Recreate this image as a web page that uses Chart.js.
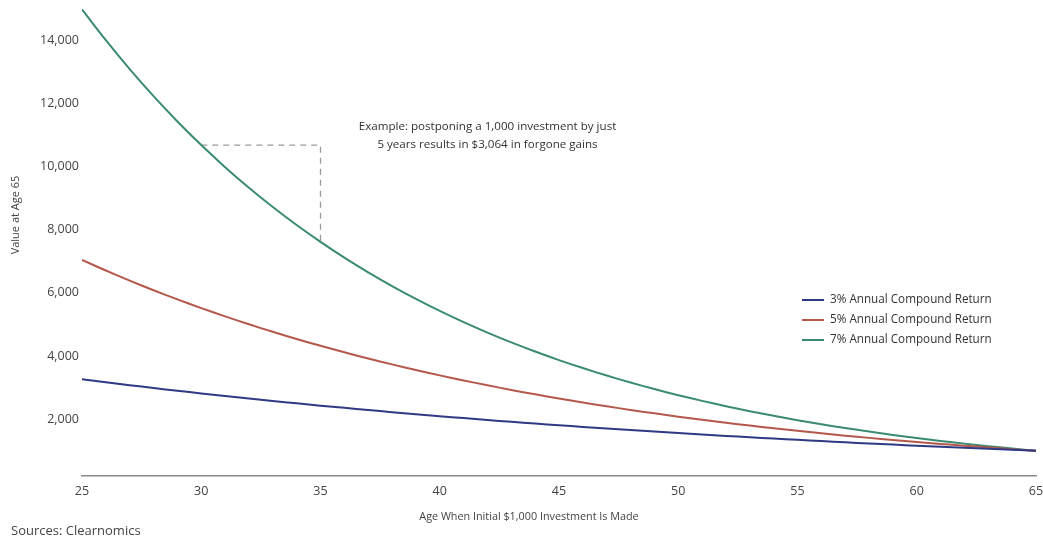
<!DOCTYPE html>
<html>
<head>
<meta charset="utf-8">
<script src="https://cdn.jsdelivr.net/npm/chart.js@4/dist/chart.umd.min.js"></script>
<style>
  html, body { margin: 0; padding: 0; background: #ffffff; }
  #wrap { width: 1043px; height: 539px; position: relative; }
</style>
</head>
<body>
<div id="wrap"><canvas id="c" width="1043" height="539"></canvas></div>
<script>
// Age when the initial $1,000 investment is made
const ages = [25,26,27,28,29,30,31,32,33,34,35,36,37,38,39,40,41,42,43,44,45,
              46,47,48,49,50,51,52,53,54,55,56,57,58,59,60,61,62,63,64,65];

// Value at age 65
const return3 = [3262,3167,3075,2985,2898,2814,2732,2652,2575,2500,2427,2357,2288,2221,2157,2094,
                 2033,1974,1916,1860,1806,1754,1702,1653,1605,1558,1513,1469,1426,1384,1344,1305,
                 1267,1230,1194,1159,1126,1093,1061,1030,1000];
const return5 = [7040,6705,6386,6081,5792,5516,5253,5003,4765,4538,4322,4116,3920,3734,3556,3386,
                 3225,3072,2925,2786,2653,2527,2407,2292,2183,2079,1980,1886,1796,1710,1629,1551,
                 1478,1407,1340,1276,1216,1158,1103,1050,1000];
const return7 = [14974,13995,13079,12224,11424,10677,9978,9325,8715,8145,7612,7114,6649,6214,5807,5427,
                 5072,4741,4430,4141,3870,3617,3380,3159,2952,2759,2579,2410,2252,2105,1967,1838,
                 1718,1606,1501,1403,1311,1225,1145,1070,1000];

const seriesNames = ["3% Annual Compound Return", "5% Annual Compound Return", "7% Annual Compound Return"];
const seriesColors = ["#2e3a86", "#b4584b", "#3a8b72"];

// Example annotation: postponing from age 30 to 35 on the 7% curve
const exampleAges = [30, 35, 35];
const exampleValues = [10677, 10677, 7612];

const yTicks = [2000, 4000, 6000, 8000, 10000, 12000, 14000];
const xTicks = [25, 30, 35, 40, 45, 50, 55, 60, 65];

const annotationLines = ["Example: postponing a 1,000 investment by just",
                         "5 years results in $3,064 in forgone gains"];
const xTitle = "Age When Initial $1,000 Investment Is Made";
const yTitle = "Value at Age 65";
const sourceText = "Sources: Clearnomics";

const FONT = "'Open Sans', 'Noto Sans', sans-serif";

function toPoints(xs, ys) { return xs.map((x, i) => ({ x: x, y: ys[i] })); }

const extrasPlugin = {
  id: 'extras',
  afterDraw(chart) {
    const ctx = chart.ctx;
    ctx.save();
    // annotation text
    ctx.fillStyle = "#333333";
    ctx.font = "11.6px " + FONT;
    ctx.textAlign = "center";
    ctx.textBaseline = "middle";
    ctx.fillText(annotationLines[0], 487.5, 127);
    ctx.fillText(annotationLines[1], 487.5, 145);

    // legend
    const lx = 802, ly = [300, 320, 340];
    chart.data.datasets.slice(0, 3).forEach((ds, i) => {
      ctx.strokeStyle = ds.borderColor;
      ctx.lineWidth = 2;
      ctx.beginPath();
      ctx.moveTo(lx, ly[i]);
      ctx.lineTo(lx + 22, ly[i]);
      ctx.stroke();
      ctx.fillStyle = "#333333";
      ctx.textAlign = "left";
      ctx.font = "11.7px " + FONT;
      ctx.fillText(ds.label, lx + 28, ly[i]);
    });

    // axis titles
    ctx.fillStyle = "#444444";
    ctx.font = "10.8px " + FONT;
    ctx.textAlign = "center";
    ctx.fillText(xTitle, 529, 517);

    ctx.save();
    ctx.translate(16, 215);
    ctx.rotate(-Math.PI / 2);
    ctx.font = "11px " + FONT;
    ctx.fillText(yTitle, 0, 0);
    ctx.restore();

    // source
    ctx.textAlign = "left";
    ctx.font = "13px " + FONT;
    ctx.fillStyle = "#444444";
    ctx.fillText(sourceText, 11, 531);
    ctx.restore();
  }
};

new Chart(document.getElementById('c'), {
  type: 'line',
  data: {
    datasets: [
      { label: seriesNames[0], data: toPoints(ages, return3), borderColor: seriesColors[0], borderWidth: 2, pointRadius: 0, tension: 0.3, fill: false },
      { label: seriesNames[1], data: toPoints(ages, return5), borderColor: seriesColors[1], borderWidth: 2, pointRadius: 0, tension: 0.3, fill: false },
      { label: seriesNames[2], data: toPoints(ages, return7), borderColor: seriesColors[2], borderWidth: 2, pointRadius: 0, tension: 0.3, fill: false },
      { label: 'example', data: toPoints(exampleAges, exampleValues), borderColor: "#9a9a9a", borderWidth: 1.3, borderDash: [6, 5], pointRadius: 0, tension: 0, fill: false }
    ]
  },
  options: {
    responsive: false,
    animation: false,
    devicePixelRatio: 1,
    layout: { padding: { left: 0, right: 7, top: 8.5, bottom: 0 } },
    plugins: { legend: { display: false }, tooltip: { enabled: false }, title: { display: false } },
    scales: {
      x: {
        type: 'linear',
        min: 25, max: 65,
        grid: { display: false, drawTicks: false },
        border: { display: true, color: "#8a8a8a", width: 1.5 },
        ticks: { color: "#444444", font: { family: FONT, size: 12.5 }, padding: 8, maxRotation: 0, autoSkip: false },
        afterBuildTicks: s => { s.ticks = xTicks.map(v => ({ value: v })); },
        afterFit: s => { s.height = 63; s.paddingLeft = 0; s.paddingRight = 0; }
      },
      y: {
        type: 'linear',
        min: 200, max: 15000,
        grid: { display: false, drawTicks: false },
        border: { display: false },
        ticks: {
          color: "#444444", font: { family: FONT, size: 12.5 }, padding: 3,
          callback: v => v.toLocaleString('en-US')
        },
        afterBuildTicks: s => { s.ticks = yTicks.map(v => ({ value: v })); },
        afterFit: s => { s.width = 82; s.paddingTop = 0; s.paddingBottom = 0; }
      }
    }
  },
  plugins: [extrasPlugin]
});
</script>
</body>
</html>
